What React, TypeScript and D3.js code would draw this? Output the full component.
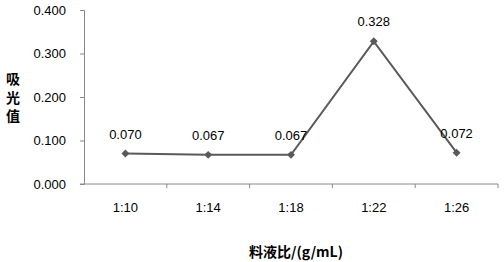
import React, { useEffect, useRef } from 'react';
import * as d3 from 'd3';

const categories = ['1:10', '1:14', '1:18', '1:22', '1:26'];
const values = [0.070, 0.067, 0.067, 0.328, 0.072];
const yTicks = [0, 0.1, 0.2, 0.3, 0.4];
const yTitle = ['吸', '光', '值'];
const xTitle = '料液比/(g/mL)';

const width = 504;
const height = 262;
const margin = { left: 84, right: 6, top: 10, bottom: 78 };
const font = '"Liberation Sans", Arial, sans-serif';

export default function App() {
  const ref = useRef<SVGSVGElement>(null);

  useEffect(() => {
    const svg = d3.select(ref.current);
    svg.selectAll('*').remove();

    const x = d3.scaleBand()
      .domain(categories)
      .range([margin.left, width - margin.right]);
    const y = d3.scaleLinear()
      .domain([0, 0.4])
      .range([height - margin.bottom, margin.top]);

    const axisColor = '#888888';

    // y axis
    const yAxis = svg.append('g')
      .attr('transform', `translate(${margin.left},0)`)
      .call(d3.axisLeft(y).tickValues(yTicks).tickFormat(d3.format('.3f')).tickSize(4).tickPadding(14));
    yAxis.select('.domain').attr('stroke', axisColor);
    yAxis.selectAll('.tick line').attr('stroke', axisColor);
    yAxis.selectAll('.tick text')
      .attr('font-family', font)
      .attr('font-size', 13)
      .attr('fill', '#000');

    // x axis with ticks at band edges
    const xg = svg.append('g')
      .attr('transform', `translate(0,${y(0)})`);
    xg.append('line')
      .attr('x1', margin.left - 4)
      .attr('x2', width - margin.right)
      .attr('stroke', axisColor);
    const edges = categories.map((c) => x(c)! + x.bandwidth());
    xg.selectAll('line.tk')
      .data(edges)
      .enter()
      .append('line')
      .attr('class', 'tk')
      .attr('x1', (d) => d)
      .attr('x2', (d) => d)
      .attr('y1', 0)
      .attr('y2', 4)
      .attr('stroke', axisColor);
    xg.selectAll('text')
      .data(categories)
      .enter()
      .append('text')
      .attr('x', (d) => x(d)! + x.bandwidth() / 2)
      .attr('y', 28)
      .attr('text-anchor', 'middle')
      .attr('font-family', font)
      .attr('font-size', 13)
      .text((d) => d);

    // line
    const line = d3.line<number>()
      .x((_, i) => x(categories[i])! + x.bandwidth() / 2)
      .y((d) => y(d));
    svg.append('path')
      .datum(values)
      .attr('d', line)
      .attr('fill', 'none')
      .attr('stroke', '#5a5a5a')
      .attr('stroke-width', 2);

    const sym = d3.symbol().type(d3.symbolDiamond2).size(40);
    svg.selectAll('path.pt')
      .data(values)
      .enter()
      .append('path')
      .attr('class', 'pt')
      .attr('d', sym)
      .attr('transform', (d, i) => `translate(${x(categories[i])! + x.bandwidth() / 2},${y(d)})`)
      .attr('fill', '#5a5a5a');

    svg.selectAll('text.lbl')
      .data(values)
      .enter()
      .append('text')
      .attr('class', 'lbl')
      .attr('x', (d, i) => x(categories[i])! + x.bandwidth() / 2)
      .attr('y', (d) => y(d) - 15)
      .attr('text-anchor', 'middle')
      .attr('font-family', font)
      .attr('font-size', 13)
      .text((d) => d.toFixed(3));

    // titles
    svg.append('g')
      .selectAll('text')
      .data(yTitle)
      .enter()
      .append('text')
      .attr('x', 13)
      .attr('y', (d, i) => 84 + i * 18.5)
      .attr('text-anchor', 'middle')
      .attr('font-family', '"Noto Sans CJK SC", sans-serif')
      .attr('font-weight', 'bold')
      .attr('font-size', 14)
      .text((d) => d);

    svg.append('text')
      .attr('x', 296)
      .attr('y', 257)
      .attr('text-anchor', 'middle')
      .attr('font-family', '"Noto Sans CJK SC", sans-serif')
      .attr('font-weight', 'bold')
      .attr('font-size', 14)
      .text(xTitle);
  }, []);

  return (
    <svg
      ref={ref}
      width={width}
      height={height}
      style={{ position: 'absolute', left: 0, top: 0, background: '#fff' }}
    />
  );
}
